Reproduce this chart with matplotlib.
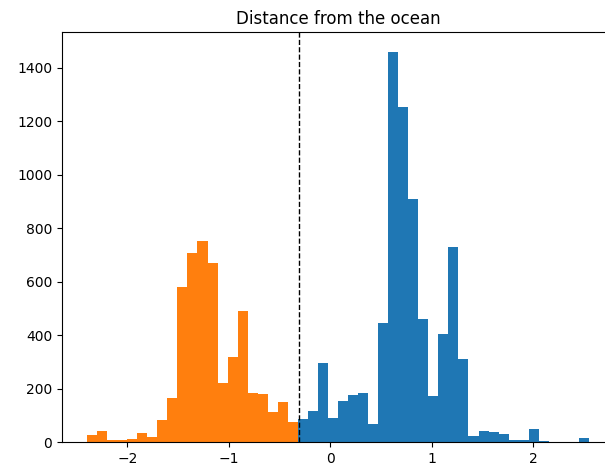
# 해안 거리 히스토그램
import numpy as np
import matplotlib
matplotlib.use('Agg')
import matplotlib.pyplot as plt

# 데이터
bin_start = -2.397
bin_end = 2.552
n_bins = 50
counts = [26, 41, 7, 7, 11, 34, 19, 82, 164, 579,
          706, 750, 668, 220, 319, 490, 183, 179, 112, 149,
          75, 86, 117, 295, 90, 153, 175, 183, 67, 444,
          1460, 1251, 907, 459, 172, 403, 728, 310, 22, 41,
          37, 30, 7, 7, 49, 5, 0, 1, 0, 15]
threshold = -0.305

edges = np.linspace(bin_start, bin_end, n_bins + 1)
centers = (edges[:-1] + edges[1:]) / 2

# 그림 크기 지정
fig = plt.figure(figsize=(6.05, 4.67), dpi=100)
ax = fig.add_axes([62 / 605, 25 / 467, 552 / 605, 410 / 467])

# 히스토그램
n, bins, patches = ax.hist(centers, bins=edges, weights=counts)
for c, p in zip(centers, patches):
    if c < threshold:
        p.set_facecolor('#ff7f0e')
    else:
        p.set_facecolor('#1f77b4')

# 기준선
ax.axvline(threshold, color='k', linestyle='--', linewidth=1)

# 타이틀
ax.set_title('Distance from the ocean')

fig.savefig('out.png', dpi=100)
